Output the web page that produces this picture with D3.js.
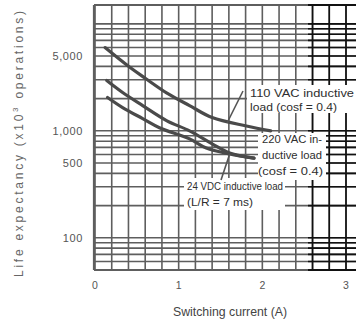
<!DOCTYPE html>
<html>
<head>
<meta charset="utf-8">
<script src="https://cdn.jsdelivr.net/npm/d3@7"></script>
<style>
  html, body { margin: 0; padding: 0; background: #fff; }
  svg { display: block; }
  text { font-family: "Liberation Sans", Arial, sans-serif; }
</style>
</head>
<body>
<svg id="chart" width="356" height="328"></svg>
<script>
// Switching current (A) sampled along each life-expectancy curve
const current110 = [0.12, 0.42, 0.60, 0.86, 1.13, 1.40, 1.81, 2.10];
const life110    = [6000, 3900, 3100, 2250, 1720, 1330, 1110, 1000];

const current220 = [0.14, 0.33, 0.57, 0.86, 1.13, 1.40, 1.61, 1.90];
const life220    = [2950, 2280, 1720, 1240, 1000, 755, 620, 555];

const current24  = [0.15, 0.33, 0.57, 0.77, 1.13, 1.33, 1.61, 1.90];
const life24     = [2050, 1650, 1300, 1070, 840, 690, 607, 555];

// Axis ticks
const xTickValues = [0, 1, 2, 3];
const yTickValues = [5000, 1000, 500, 100];
const yTickLabels = ["5,000", "1,000", "500", "100"];

const W = 356, H = 328;
const svg = d3.select("#chart");

const x = d3.scaleLinear().domain([0, 3]).range([95, 346]);
const y = d3.scaleLog().domain([50, 15000]).range([270, 5]);

const plotLeft = 94, plotRight = W, plotTop = 5, plotBottom = 270;

// Log grid: 50..90, 100..900, 1000..9000, 10000
const hGrid = [];
[10, 100, 1000, 10000].forEach(dec => {
  for (let k = 1; k <= 9; k++) {
    const v = dec * k;
    if (v >= 50 && v <= 10000) hGrid.push(v);
  }
});
const vGrid = d3.range(0, 3.0001, 0.2);

// darker ruling on the right-hand part of the sheet
svg.append("defs").append("clipPath").attr("id", "darkPart")
  .append("rect").attr("x", 308).attr("y", 0).attr("width", W - 308).attr("height", H);

function drawGrid(g, colour) {
  g.selectAll("line.h").data(hGrid).join("line")
    .attr("class", "h")
    .attr("x1", plotLeft).attr("x2", plotRight)
    .attr("y1", d => y(d)).attr("y2", d => y(d))
    .attr("stroke", colour).attr("stroke-width", 1.6);
  g.selectAll("line.v").data(vGrid).join("line")
    .attr("class", "v")
    .attr("x1", d => x(d)).attr("x2", d => x(d))
    .attr("y1", plotTop).attr("y2", plotBottom)
    .attr("stroke", colour).attr("stroke-width", 1.6);
  g.append("line").attr("x1", plotLeft).attr("x2", plotRight).attr("y1", plotBottom).attr("y2", plotBottom)
    .attr("stroke", colour).attr("stroke-width", 2.2);
  g.append("line").attr("x1", plotLeft).attr("x2", plotRight).attr("y1", plotTop).attr("y2", plotTop)
    .attr("stroke", colour).attr("stroke-width", 1.8);
  g.append("line").attr("x1", plotLeft).attr("x2", plotLeft).attr("y1", plotTop).attr("y2", plotBottom)
    .attr("stroke", colour).attr("stroke-width", 2.2);
}
drawGrid(svg.append("g"), "#5e5e5e");
drawGrid(svg.append("g").attr("clip-path", "url(#darkPart)"), "#111");

// Curves
const line = d3.line()
  .x(d => x(d[0])).y(d => y(d[1]))
  .curve(d3.curveCatmullRom.alpha(0.5));

[[current110, life110], [current220, life220], [current24, life24]].forEach(([xs, vs]) => {
  svg.append("path")
    .datum(d3.zip(xs, vs))
    .attr("d", line)
    .attr("fill", "none")
    .attr("stroke", "#4a4a4a")
    .attr("stroke-width", 3.2)
    .attr("stroke-linecap", "round");
});

// Curve annotations (white box knocks out the ruling)
const notes = [
  { box: [247, 85, 109, 28], x: 250, lines: [
      { t: "110 VAC inductive", y: 97, w: 104 },
      { t: "load (cosf = 0.4)", y: 111, w: 87 }],
    leader: { from: [243, 91], to: [1.58, 1190] } },
  { box: [258, 133, 68, 47], x: 262, lines: [
      { t: "220 VAC in-", y: 143, w: 60 },
      { t: "ductive load", y: 159, w: 60 },
      { t: "(cosf = 0.4)", y: 175, w: 65, dx: -4 }],
    leader: null },
  { box: [184, 178, 101, 32], x: 187, lines: [
      { t: "24 VDC inductive load", y: 190, w: 96, fs: 10 },
      { t: "(L/R = 7 ms)", y: 206, w: 66 }],
    leader: { from: [221, 180], to: [1.61, 607] } }
];

notes.forEach(n => {
  svg.append("rect")
    .attr("x", n.box[0]).attr("y", n.box[1])
    .attr("width", n.box[2]).attr("height", n.box[3])
    .attr("fill", "#fff");
  n.lines.forEach(l => {
    svg.append("text")
      .attr("x", n.x + (l.dx || 0)).attr("y", l.y)
      .attr("font-size", l.fs || 10.5)
      .attr("fill", "#2e2e2e")
      .attr("textLength", l.w)
      .attr("lengthAdjust", "spacingAndGlyphs")
      .text(l.t);
  });
  if (n.leader) {
    svg.append("line")
      .attr("x1", n.leader.from[0]).attr("y1", n.leader.from[1])
      .attr("x2", x(n.leader.to[0])).attr("y2", y(n.leader.to[1]))
      .attr("stroke", "#555").attr("stroke-width", 1.6);
  }
});

// Y tick labels
svg.selectAll("text.ytick").data(yTickValues).join("text")
  .attr("class", "ytick")
  .attr("x", 83).attr("y", d => y(d))
  .attr("dy", "0.35em")
  .attr("text-anchor", "end")
  .attr("font-size", 11)
  .attr("letter-spacing", 0.6)
  .attr("fill", "#555")
  .text((d, i) => yTickLabels[i]);

// X tick labels
svg.selectAll("text.xtick").data(xTickValues).join("text")
  .attr("class", "xtick")
  .attr("x", d => x(d)).attr("y", 289)
  .attr("text-anchor", "middle")
  .attr("font-size", 10.5)
  .attr("fill", "#555")
  .text(d => d);

// Axis titles
svg.append("text")
  .attr("x", 230).attr("y", 316)
  .attr("text-anchor", "middle")
  .attr("font-size", 12.3)
  .attr("fill", "#444")
  .text("Switching current (A)");

const yt = svg.append("text")
  .attr("transform", "translate(23,277) rotate(-90)")
  .attr("x", 0).attr("y", 0)
  .attr("font-size", 12)
  .attr("fill", "#666")
  .attr("textLength", 266)
  .attr("lengthAdjust", "spacing");
yt.append("tspan").text("Life expectancy (x10");
yt.append("tspan").attr("font-size", 8).attr("dy", -5).text("3");
yt.append("tspan").attr("dy", 5).text(" operations)");
</script>
</body>
</html>
